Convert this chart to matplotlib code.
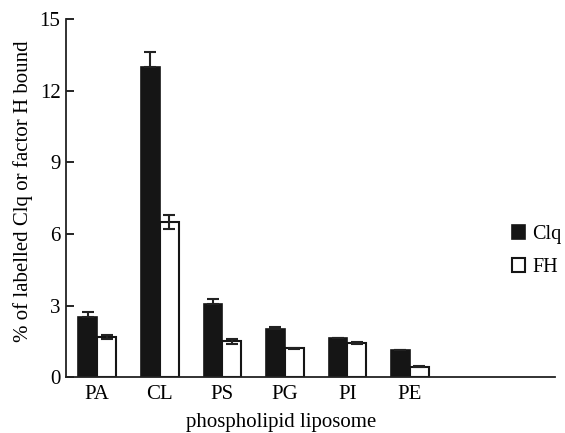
import matplotlib
matplotlib.use("Agg")
import matplotlib.pyplot as plt
import numpy as np

plt.rcParams['font.family'] = ['Liberation Serif', 'DejaVu Serif']

categories = ["PA", "CL", "PS", "PG", "PI", "PE"]
clq_values = [2.51, 13.0, 3.06, 2.0, 1.62, 1.12]
clq_errors = [0.2, 0.62, 0.2, 0.1, 0.03, 0.03]
fh_values = [1.68, 6.5, 1.5, 1.2, 1.42, 0.43]
fh_errors = [0.1, 0.3, 0.1, 0.04, 0.04, 0.02]
yticks = [0, 3, 6, 9, 12, 15]

fig = plt.figure(figsize=(5.65, 4.33), dpi=100)
ax = fig.add_axes([0.1168, 0.129, 0.8652, 0.827])

x = np.arange(len(categories))
w = 0.30
ekw = dict(ecolor="#222222", elinewidth=1.5, capsize=4, capthick=1.5)
ax.bar(x - w / 2, clq_values, w, color="#151515", edgecolor="#151515", linewidth=1.2, label="Clq",
       yerr=[np.zeros(len(clq_errors)), clq_errors], error_kw=ekw)
ax.bar(x + w / 2, fh_values, w, color="white", edgecolor="#151515", linewidth=1.5, label="FH",
       yerr=fh_errors, error_kw=ekw)

ax.set_xlim(-0.5, 7.32)
ax.set_ylim(0, 15)
ax.set_yticks(yticks)
ax.set_yticklabels([str(t) for t in yticks])
ax.set_xticks(x)
ax.set_xticklabels(categories)
ax.tick_params(axis='y', direction='in', length=6, width=1.2, labelsize=15, pad=4)
ax.tick_params(axis='x', length=0, labelsize=15, pad=6)
for s in ["top", "right"]:
    ax.spines[s].set_visible(False)
for s in ["left", "bottom"]:
    ax.spines[s].set_linewidth(1.3)
    ax.spines[s].set_color("#222222")

ax.set_ylabel("% of labelled Clq or factor H bound", fontsize=15)
ax.yaxis.set_label_coords(-0.068, 0.52)
ax.set_xlabel("phospholipid liposome", fontsize=15)
ax.xaxis.set_label_coords(0.44, -0.10)

leg = ax.legend(loc="center left", bbox_to_anchor=(0.912, 0.352), frameon=False, fontsize=14.5,
                handlelength=0.65, handleheight=0.65, handletextpad=0.35, labelspacing=0.7,
                borderpad=0, borderaxespad=0)

fig.savefig("out.png", dpi=100)
